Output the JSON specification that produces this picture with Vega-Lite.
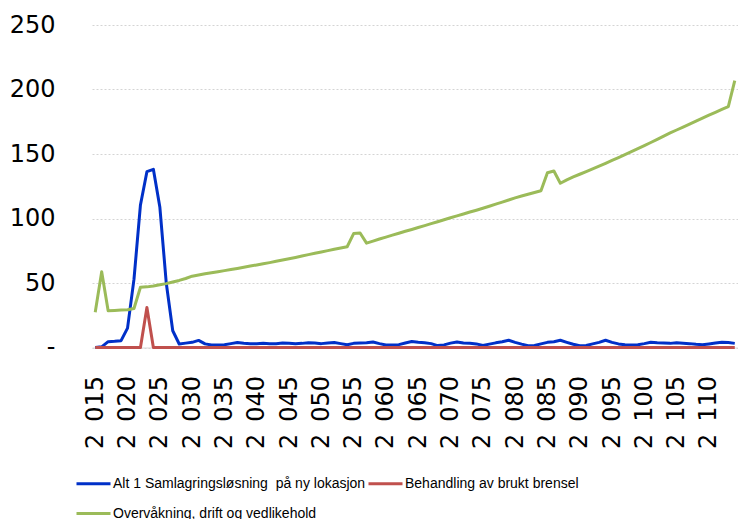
{
  "$schema": "https://vega.github.io/schema/vega-lite/v6.json",
  "autosize": {"type": "none"},
  "padding": {"left": 92, "top": 25, "right": 0, "bottom": 171.5},
  "width": 646,
  "height": 322.5,
  "background": "white",
  "config": {
    "view": {"stroke": null},
    "font": "DejaVu Sans"
  },
  "data": {
    "values": [
      {"year": 2015, "alt1": 0, "beh": 0, "ovd": 27.3},
      {"year": 2016, "alt1": 0.5, "beh": 0, "ovd": 58.8},
      {"year": 2017, "alt1": 4.5, "beh": 0, "ovd": 28.5},
      {"year": 2018, "alt1": 4.8, "beh": 0, "ovd": 28.7},
      {"year": 2019, "alt1": 5.3, "beh": 0, "ovd": 29.0},
      {"year": 2020, "alt1": 15, "beh": 0, "ovd": 29.3},
      {"year": 2021, "alt1": 53, "beh": 0, "ovd": 30.2},
      {"year": 2022, "alt1": 110.5, "beh": 0, "ovd": 46.7},
      {"year": 2023, "alt1": 136.3, "beh": 31, "ovd": 47.0},
      {"year": 2024, "alt1": 138.1, "beh": 0, "ovd": 47.7},
      {"year": 2025, "alt1": 109, "beh": 0, "ovd": 48.6},
      {"year": 2026, "alt1": 49.8, "beh": 0, "ovd": 49.5},
      {"year": 2027, "alt1": 13, "beh": 0, "ovd": 50.8},
      {"year": 2028, "alt1": 2.7, "beh": 0, "ovd": 52.0},
      {"year": 2029, "alt1": 3.4, "beh": 0, "ovd": 53.5},
      {"year": 2030, "alt1": 4.0, "beh": 0, "ovd": 55.3},
      {"year": 2031, "alt1": 5.5, "beh": 0, "ovd": 56.2},
      {"year": 2032, "alt1": 2.8, "beh": 0, "ovd": 57.1},
      {"year": 2033, "alt1": 2.0, "beh": 0, "ovd": 58.0},
      {"year": 2034, "alt1": 2.0, "beh": 0, "ovd": 58.8},
      {"year": 2035, "alt1": 2.2, "beh": 0, "ovd": 59.6},
      {"year": 2036, "alt1": 3.0, "beh": 0, "ovd": 60.4},
      {"year": 2037, "alt1": 3.8, "beh": 0, "ovd": 61.3},
      {"year": 2038, "alt1": 3.3, "beh": 0, "ovd": 62.2},
      {"year": 2039, "alt1": 3.0, "beh": 0, "ovd": 63.1},
      {"year": 2040, "alt1": 3.0, "beh": 0, "ovd": 64.0},
      {"year": 2041, "alt1": 3.2, "beh": 0, "ovd": 64.9},
      {"year": 2042, "alt1": 3.0, "beh": 0, "ovd": 65.8},
      {"year": 2043, "alt1": 3.0, "beh": 0, "ovd": 66.8},
      {"year": 2044, "alt1": 3.4, "beh": 0, "ovd": 67.8},
      {"year": 2045, "alt1": 3.3, "beh": 0, "ovd": 68.8},
      {"year": 2046, "alt1": 3.0, "beh": 0, "ovd": 69.8},
      {"year": 2047, "alt1": 3.2, "beh": 0, "ovd": 70.9},
      {"year": 2048, "alt1": 3.6, "beh": 0, "ovd": 72.0},
      {"year": 2049, "alt1": 3.4, "beh": 0, "ovd": 73.0},
      {"year": 2050, "alt1": 3.0, "beh": 0, "ovd": 74.1},
      {"year": 2051, "alt1": 3.5, "beh": 0, "ovd": 75.1},
      {"year": 2052, "alt1": 3.9, "beh": 0, "ovd": 76.1},
      {"year": 2053, "alt1": 3.0, "beh": 0, "ovd": 77.1},
      {"year": 2054, "alt1": 2.2, "beh": 0, "ovd": 78.1},
      {"year": 2055, "alt1": 3.2, "beh": 0, "ovd": 88.3},
      {"year": 2056, "alt1": 3.5, "beh": 0, "ovd": 88.8},
      {"year": 2057, "alt1": 3.6, "beh": 0, "ovd": 80.9},
      {"year": 2058, "alt1": 4.2, "beh": 0, "ovd": 82.5},
      {"year": 2059, "alt1": 3.0, "beh": 0, "ovd": 84.1},
      {"year": 2060, "alt1": 2.0, "beh": 0, "ovd": 85.6},
      {"year": 2061, "alt1": 2.0, "beh": 0, "ovd": 87.1},
      {"year": 2062, "alt1": 2.2, "beh": 0, "ovd": 88.6},
      {"year": 2063, "alt1": 3.5, "beh": 0, "ovd": 90.1},
      {"year": 2064, "alt1": 4.6, "beh": 0, "ovd": 91.5},
      {"year": 2065, "alt1": 4.0, "beh": 0, "ovd": 93.0},
      {"year": 2066, "alt1": 3.6, "beh": 0, "ovd": 94.5},
      {"year": 2067, "alt1": 3.0, "beh": 0, "ovd": 96.0},
      {"year": 2068, "alt1": 1.5, "beh": 0, "ovd": 97.5},
      {"year": 2069, "alt1": 2.0, "beh": 0, "ovd": 99.0},
      {"year": 2070, "alt1": 3.4, "beh": 0, "ovd": 100.6},
      {"year": 2071, "alt1": 4.3, "beh": 0, "ovd": 102.0},
      {"year": 2072, "alt1": 3.5, "beh": 0, "ovd": 103.5},
      {"year": 2073, "alt1": 3.2, "beh": 0, "ovd": 105.0},
      {"year": 2074, "alt1": 2.8, "beh": 0, "ovd": 106.4},
      {"year": 2075, "alt1": 1.6, "beh": 0, "ovd": 107.9},
      {"year": 2076, "alt1": 2.6, "beh": 0, "ovd": 109.5},
      {"year": 2077, "alt1": 3.6, "beh": 0, "ovd": 111.1},
      {"year": 2078, "alt1": 4.4, "beh": 0, "ovd": 112.7},
      {"year": 2079, "alt1": 5.6, "beh": 0, "ovd": 114.3},
      {"year": 2080, "alt1": 4.0, "beh": 0, "ovd": 116.0},
      {"year": 2081, "alt1": 2.6, "beh": 0, "ovd": 117.4},
      {"year": 2082, "alt1": 1.4, "beh": 0, "ovd": 118.8},
      {"year": 2083, "alt1": 1.6, "beh": 0, "ovd": 120.2},
      {"year": 2084, "alt1": 2.8, "beh": 0, "ovd": 121.5},
      {"year": 2085, "alt1": 4.0, "beh": 0, "ovd": 135.5},
      {"year": 2086, "alt1": 4.5, "beh": 0, "ovd": 136.8},
      {"year": 2087, "alt1": 5.6, "beh": 0, "ovd": 127.3},
      {"year": 2088, "alt1": 4.0, "beh": 0, "ovd": 129.9},
      {"year": 2089, "alt1": 2.5, "beh": 0, "ovd": 132.2},
      {"year": 2090, "alt1": 1.4, "beh": 0, "ovd": 134.3},
      {"year": 2091, "alt1": 1.6, "beh": 0, "ovd": 136.4},
      {"year": 2092, "alt1": 2.8, "beh": 0, "ovd": 138.5},
      {"year": 2093, "alt1": 4.0, "beh": 0, "ovd": 140.6},
      {"year": 2094, "alt1": 5.6, "beh": 0, "ovd": 142.8},
      {"year": 2095, "alt1": 4.0, "beh": 0, "ovd": 145.0},
      {"year": 2096, "alt1": 2.8, "beh": 0, "ovd": 147.2},
      {"year": 2097, "alt1": 2.2, "beh": 0, "ovd": 149.5},
      {"year": 2098, "alt1": 2.0, "beh": 0, "ovd": 151.8},
      {"year": 2099, "alt1": 2.2, "beh": 0, "ovd": 154.1},
      {"year": 2100, "alt1": 3.0, "beh": 0, "ovd": 156.5},
      {"year": 2101, "alt1": 4.0, "beh": 0, "ovd": 158.9},
      {"year": 2102, "alt1": 3.6, "beh": 0, "ovd": 161.4},
      {"year": 2103, "alt1": 3.5, "beh": 0, "ovd": 163.9},
      {"year": 2104, "alt1": 3.2, "beh": 0, "ovd": 166.3},
      {"year": 2105, "alt1": 3.6, "beh": 0, "ovd": 168.6},
      {"year": 2106, "alt1": 3.3, "beh": 0, "ovd": 170.9},
      {"year": 2107, "alt1": 3.0, "beh": 0, "ovd": 173.2},
      {"year": 2108, "alt1": 2.5, "beh": 0, "ovd": 175.5},
      {"year": 2109, "alt1": 2.2, "beh": 0, "ovd": 177.8},
      {"year": 2110, "alt1": 2.8, "beh": 0, "ovd": 180.1},
      {"year": 2111, "alt1": 3.5, "beh": 0, "ovd": 182.3},
      {"year": 2112, "alt1": 4.0, "beh": 0, "ovd": 184.5},
      {"year": 2113, "alt1": 3.8, "beh": 0, "ovd": 186.7},
      {"year": 2114, "alt1": 3.2, "beh": 0, "ovd": 206.8}
    ]
  },
  "transform": [
    {"fold": ["alt1", "beh", "ovd"], "as": ["series", "value"]}
  ],
  "mark": {"type": "line", "strokeWidth": 3, "strokeJoin": "round"},
  "encoding": {
    "x": {
      "field": "year",
      "type": "quantitative",
      "scale": {"domain": [2014.5, 2114.5], "nice": false, "zero": false},
      "axis": {
        "title": null,
        "values": [2015, 2020, 2025, 2030, 2035, 2040, 2045, 2050, 2055, 2060, 2065, 2070, 2075, 2080, 2085, 2090, 2095, 2100, 2105, 2110],
        "labelExpr": "'2\u2002' + substring(toString(datum.value), 1)",
        "labelAngle": 270,
        "labelFontSize": 24,
        "labelColor": "#000000",
        "labelPadding": 28,
        "labelFont": "DejaVu Sans",
        "ticks": false,
        "grid": false,
        "domain": true,
        "domainColor": "#d9d9d9",
        "domainWidth": 1,
        "labelOverlap": false,
        "labelFlush": false
      }
    },
    "y": {
      "field": "value",
      "type": "quantitative",
      "scale": {"domain": [0, 250], "nice": false},
      "axis": {
        "title": null,
        "values": [0, 50, 100, 150, 200, 250],
        "labelExpr": "datum.value == 0 ? '-\u00a0\u00a0' : datum.label",
        "labelFontSize": 24,
        "labelColor": "#000000",
        "labelFont": "DejaVu Sans",
        "labelPadding": 37,
        "ticks": false,
        "domain": false,
        "grid": true,
        "gridColor": "#d4d4d4",
        "gridDash": [2, 2],
        "gridWidth": 1
      }
    },
    "color": {
      "field": "series",
      "type": "nominal",
      "scale": {"domain": ["alt1", "beh", "ovd"], "range": ["#0030C8", "#C0504D", "#9BBB59"]},
      "legend": {
        "title": null,
        "orient": "none",
        "direction": "horizontal",
        "legendX": -17,
        "legendY": 440,
        "columns": 2,
        "symbolType": "stroke",
        "symbolSize": 1156,
        "symbolStrokeWidth": 3,
        "labelOffset": 1,
        "columnPadding": -4,
        "rowPadding": 4,
        "labelFont": "Liberation Sans",
        "labelFontSize": 14,
        "labelColor": "#000000",
        "labelLimit": 400,
        "labelExpr": "datum.label == 'alt1' ? 'Alt 1 Samlagringsløsning\u00a0 på ny lokasjon' : datum.label == 'beh' ? 'Behandling av brukt brensel' : 'Overvåkning, drift og vedlikehold'"
      }
    }
  }
}
